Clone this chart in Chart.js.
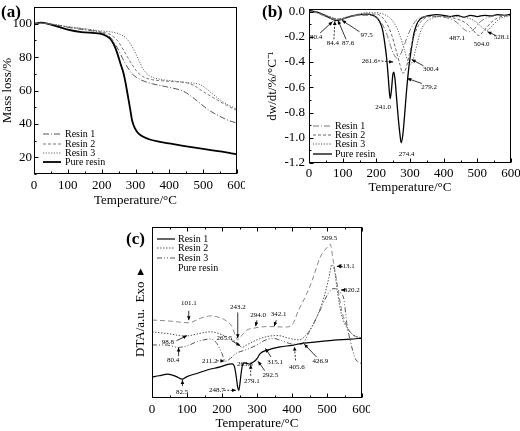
<!DOCTYPE html>
<html>
<head>
<meta charset="utf-8">
<script src="https://cdn.jsdelivr.net/npm/chart.js@4.4.1/dist/chart.umd.min.js"></script>
<style>
  html, body { margin: 0; padding: 0; background: #fff; }
  body { width: 520px; height: 431px; position: relative; overflow: hidden; }
  canvas { position: absolute; }
</style>
</head>
<body>
<canvas id="tg" width="245" height="210" style="left:0;top:0"></canvas>
<canvas id="dtg" width="260" height="200" style="left:260px;top:0"></canvas>
<canvas id="dta" width="270" height="216" style="left:100px;top:215px"></canvas>
<script>
// ---- data ----
const tempTicks = [0, 100, 200, 300, 400, 500, 600]
const tgTicks = [20, 40, 60, 80, 100]
const dtgTicks = [0, -0.2, -0.4, -0.6, -0.8, -1.0, -1.2]

// (a) TG, mass %
const tgR1T = [0, 25, 60, 100, 150, 200, 225, 245, 260, 274, 290, 313, 350, 392, 441, 465, 490, 515, 540, 570, 600]
const tgR1 = [100, 100.3, 99.3, 97.8, 96.3, 94.5, 92, 86, 80, 74.7, 70, 66.7, 64, 62.2, 59.6, 56.5, 52.5, 48.5, 45.5, 42.5, 40.4]
const tgR2T = [0, 25, 60, 100, 150, 200, 230, 250, 265, 274, 290, 303, 320, 343, 380, 412, 451, 475, 490, 515, 540, 570, 600]
const tgR2 = [100, 100.3, 99.5, 98, 96.8, 95, 93, 89, 84, 80.8, 75.5, 71.7, 68.5, 66.7, 65.8, 65.3, 64.6, 62.8, 60.6, 57.5, 54.5, 51, 48]
const tgR3T = [0, 25, 60, 100, 150, 200, 230, 250, 274, 294, 310, 323, 340, 353, 380, 412, 450, 490, 510, 530, 560, 600]
const tgR3 = [100, 100.4, 99.6, 98.3, 97, 95.6, 95, 94, 91, 84.8, 78, 72.7, 69, 67.7, 66.5, 65.7, 64.8, 63.6, 61, 57.6, 53, 48.8]
const tgPureT = [0, 20, 50, 100, 140, 195, 215, 225, 235, 245, 255, 265, 272, 279, 285, 290, 298, 310, 323, 345, 372, 400, 441, 500, 550, 600]
const tgPure = [100, 100.6, 99.5, 96.5, 95, 94, 92.5, 91, 88, 83, 76.5, 70, 63, 55, 48, 42, 37.5, 34, 32.3, 30.5, 29.3, 28.3, 26.9, 25, 23.5, 21.8]

// (b) DTG, %/°C
const dtgR1T = [0, 20, 40, 60, 80, 100, 120, 150, 180, 200, 215, 230, 242, 252, 262, 272, 285, 300, 315, 330, 350, 380, 410, 430, 445, 460, 475, 490, 505, 520, 540, 560, 600]
const dtgR1 = [0, -0.01, -0.03, -0.05, -0.065, -0.06, -0.045, -0.03, -0.03, -0.05, -0.09, -0.17, -0.27, -0.34, -0.37, -0.34, -0.25, -0.15, -0.08, -0.05, -0.04, -0.04, -0.05, -0.07, -0.1, -0.14, -0.16, -0.14, -0.09, -0.06, -0.04, -0.03, -0.03]
const dtgR2T = [0, 20, 40, 60, 84, 110, 140, 170, 200, 215, 230, 245, 258, 270, 279, 288, 298, 310, 325, 340, 360, 400, 440, 465, 485, 504, 520, 540, 560, 600]
const dtgR2 = [0, -0.005, -0.02, -0.04, -0.06, -0.05, -0.03, -0.02, -0.02, -0.04, -0.09, -0.18, -0.3, -0.42, -0.49, -0.45, -0.34, -0.21, -0.11, -0.06, -0.04, -0.04, -0.06, -0.09, -0.14, -0.19, -0.15, -0.09, -0.05, -0.03]
const dtgR3T = [0, 20, 40, 60, 88, 110, 140, 170, 200, 220, 240, 255, 270, 283, 293, 300, 308, 318, 330, 345, 360, 390, 430, 470, 495, 512, 528, 545, 565, 600]
const dtgR3 = [0.01, 0, -0.02, -0.04, -0.06, -0.045, -0.025, -0.01, -0.01, -0.02, -0.05, -0.1, -0.19, -0.3, -0.39, -0.42, -0.39, -0.29, -0.17, -0.09, -0.06, -0.04, -0.04, -0.05, -0.08, -0.12, -0.15, -0.11, -0.06, -0.03]
const dtgPureT = [0, 15, 30, 50, 65, 80, 95, 110, 130, 150, 170, 190, 200, 210, 218, 225, 231, 236, 241, 245, 249, 252, 256, 260, 265, 270, 274, 279, 284, 290, 295, 300, 306, 312, 320, 330, 345, 360, 380, 400, 420, 440, 460, 480, 500, 520, 540, 560, 580, 600]
const dtgPure = [0.01, 0, -0.01, -0.035, -0.055, -0.07, -0.065, -0.05, -0.035, -0.025, -0.02, -0.03, -0.045, -0.08, -0.14, -0.25, -0.38, -0.54, -0.69, -0.62, -0.5, -0.48, -0.55, -0.68, -0.84, -0.97, -1.04, -0.97, -0.82, -0.62, -0.48, -0.37, -0.26, -0.17, -0.1, -0.06, -0.04, -0.03, -0.025, -0.03, -0.04, -0.03, -0.045, -0.03, -0.04, -0.03, -0.035, -0.025, -0.03, -0.02]

// (c) DTA, arbitrary units (0 = bottom of frame, 100 = top)
const dtaR1T = [0, 20, 45, 70, 86, 100, 130, 160, 195, 220, 230, 236, 241, 245, 248, 251, 255, 259, 264, 272, 279, 285, 293, 300, 309, 330, 366, 400, 432, 470, 520, 566, 600]
const dtaR1 = [12.3, 13, 14, 12.5, 11, 12.5, 14.5, 16.5, 18.2, 19.8, 20, 18, 12, 6, 4.5, 8, 15, 19.5, 20.5, 20.2, 19.8, 20.5, 21.5, 23, 26, 28, 29.9, 30.8, 32.1, 32.8, 33.8, 34.4, 35]
const dtaR2T = [0, 50, 95, 130, 167, 200, 230, 245, 257, 270, 300, 330, 360, 390, 420, 445, 470, 490, 505, 514, 522, 530, 540, 557, 575, 600]
const dtaR2 = [38.7, 37.5, 36.2, 37.5, 38.7, 37, 34, 32, 29.6, 31, 34, 36, 36.5, 35, 34, 38, 47, 58, 70, 78, 74, 62, 50, 41, 37, 35]
const dtaR3T = [0, 40, 76, 100, 130, 167, 185, 200, 209, 220, 240, 271, 300, 320, 347, 370, 405, 427, 450, 475, 500, 510, 520, 533, 540, 548, 557, 567, 581, 590, 600]
const dtaR3 = [31, 31, 29.6, 30.5, 33, 34.5, 32, 26, 21.5, 22.5, 26, 28.4, 31, 33.5, 34.9, 33.5, 31.5, 31.5, 39, 49, 60, 63, 64, 63, 61, 58, 43, 33, 23, 21, 20]
const dtaPureT = [0, 50, 105, 138, 167, 186, 205, 228, 245, 258, 271, 295, 330, 349, 380, 400, 420, 440, 458, 481, 500, 509, 518, 528, 543, 566, 585, 600]
const dtaPure = [45.6, 45, 44, 46.6, 48, 47.5, 46, 42, 34, 37, 39.7, 41, 41.8, 41.7, 41.5, 42.7, 52, 60, 69, 82.5, 88, 90, 80, 68, 50.5, 38.7, 35.5, 34.5]

// peak labels: [text, labelT, labelY, arrowFromT, arrowFromY, arrowToT, arrowToY, dashed]
const dtgNotes = [
	['80.4', 21, -0.20, 33, -0.17, 70, -0.08],
	['84.4', 71, -0.25, 74, -0.22, 77, -0.075, true],
	['87.6', 116, -0.25, 110, -0.22, 86, -0.07],
	['97.5', 171, -0.19, 150, -0.16, 98, -0.07],
	['261.6', 180, -0.39, 205, -0.39, 250, -0.40, true],
	['300.4', 362, -0.455, 340, -0.43, 305, -0.38],
	['279.2', 357, -0.60, 335, -0.57, 292, -0.53],
	['241.0', 220, -0.76],
	['274.4', 290, -1.13],
	['487.1', 440, -0.21],
	['504.0', 513, -0.255],
	['528.1', 572, -0.205, 555, -0.19, 530, -0.16]
]
const dtaNotes = [
	['101.1', 105, 55.4, 105, 51, 105, 45.5],
	['98.8', 45, 32.5, 70, 33.5, 100, 36.5],
	['80.4', 60, 22, 76, 24.5, 76, 29.5],
	['82.5', 86, 3.3, 87, 7, 87, 10.5],
	['211.2', 165, 21.7, 185, 21.7, 207, 21.7, true],
	['248.7', 185, 4.5, 205, 4.5, 240, 4.5, true],
	['263.3', 265, 19.5],
	['279.1', 285, 9.8, 282, 13, 282, 19.5, true],
	['292.5', 338, 13.3, 322, 16, 303, 21.5],
	['265.5', 207, 34.9, 228, 33.5, 252, 30.5],
	['243.2', 245, 53.4, 245, 50, 245, 35],
	['294.0', 303, 48.5, 300, 45.5, 296, 42],
	['342.1', 362, 48.9, 355, 45.5, 349, 42],
	['315.1', 352, 21, 340, 24, 324, 29],
	['405.6', 414, 18, 410, 22, 407, 30, true],
	['426.9', 481, 21.5, 470, 24, 435, 31.5],
	['509.5', 507, 93.5],
	['513.1', 557, 76.9, 545, 77, 528, 77],
	['520.2', 571, 63.2, 557, 63.2, 540, 63.2]
]

Chart.defaults.font.family = "'Liberation Serif', 'Times New Roman', serif"
Chart.defaults.color = '#000'

const series = (ts, vs) => ts.map((t, i) => ({ x: t, y: vs[i] }))

// frame, inward ticks, legend, panel letter and peak labels
const panelPlugin = {
	id: 'panel',
	afterDatasetsDraw(chart, args, o) {
		const { ctx, chartArea: a } = chart
		const xs = chart.scales.x, ys = chart.scales.y
		ctx.save()
		ctx.strokeStyle = '#000'
		ctx.fillStyle = '#000'
		ctx.lineWidth = 1
		const L = Math.round(a.left) + 0.5, R = Math.round(a.right) - 0.5
		const T = Math.round(a.top) + 0.5, B = Math.round(a.bottom) - 0.5
		ctx.strokeRect(L, T, R - L, B - T)

		const line = (x0, y0, x1, y1) => { ctx.beginPath(); ctx.moveTo(x0, y0); ctx.lineTo(x1, y1); ctx.stroke() }
		const marks = (scale) => {
			const maj = scale.ticks.map(t => t.value)
			const step = maj[1] - maj[0]
			const out = maj.map(v => [v, 4])
			for (let k = -1; k < maj.length; k++) {
				const v = maj[0] + (k + 0.5) * step
				if (v >= Math.min(scale.min, scale.max) && v <= Math.max(scale.min, scale.max)) out.push([v, 2])
			}
			return out
		}
		for (const [v, len] of marks(xs)) {
			const px = Math.round(xs.getPixelForValue(v)) + 0.5
			line(px, B, px, B - len)
			if (o.topTicks) line(px, T, px, T + len)
		}
		if (!o.noYTicks) {
			for (const [v, len] of marks(ys)) {
				const py = Math.round(ys.getPixelForValue(v)) + 0.5
				line(L, py, L + len, py)
			}
		}

		// legend inside the plot
		ctx.font = "10px 'Liberation Serif'"
		ctx.textBaseline = 'middle'
		ctx.textAlign = 'left'
		chart.data.datasets.forEach((d, i) => {
			const yy = o.legend.ys[i]
			if (!d.noSample) {
				ctx.save()
				ctx.strokeStyle = d.borderColor
				ctx.lineWidth = d.borderWidth
				ctx.setLineDash(d.borderDash)
				line(o.legend.x0, yy, o.legend.x1, yy)
				ctx.restore()
			}
			ctx.fillText(d.label, o.legend.tx, yy)
		})

		// panel letter
		ctx.font = "bold 17px 'Liberation Serif'"
		ctx.fillText(o.letter[0], o.letter[1], o.letter[2])

		// peak labels with arrows
		ctx.font = "7px 'Liberation Serif'"
		ctx.textAlign = 'center'
		ctx.lineWidth = 0.8
		for (const n of o.notes) {
			ctx.fillText(n[0], xs.getPixelForValue(n[1]), ys.getPixelForValue(n[2]))
			if (n.length < 7) continue
			const x0 = xs.getPixelForValue(n[3]), y0 = ys.getPixelForValue(n[4])
			const x1 = xs.getPixelForValue(n[5]), y1 = ys.getPixelForValue(n[6])
			ctx.setLineDash(n[7] ? [2, 1.5] : [])
			line(x0, y0, x1, y1)
			ctx.setLineDash([])
			const ang = Math.atan2(y1 - y0, x1 - x0)
			ctx.beginPath()
			ctx.moveTo(x1, y1)
			ctx.lineTo(x1 - 4 * Math.cos(ang) + 1.8 * Math.sin(ang), y1 - 4 * Math.sin(ang) - 1.8 * Math.cos(ang))
			ctx.lineTo(x1 - 4 * Math.cos(ang) - 1.8 * Math.sin(ang), y1 - 4 * Math.sin(ang) + 1.8 * Math.cos(ang))
			ctx.closePath()
			ctx.fill()
		}
		ctx.restore()
	}
}

function makeChart(id, sets, c) {
	return new Chart(document.getElementById(id), {
		type: 'line',
		data: {
			datasets: sets.map(s => ({
				label: s.label,
				data: series(s.t, s.v),
				borderColor: s.color,
				borderWidth: s.width,
				borderDash: s.dash || [],
				noSample: !!s.noSample,
				pointRadius: 0,
				fill: false,
				cubicInterpolationMode: 'monotone'
			}))
		},
		options: {
			responsive: false,
			animation: false,
			devicePixelRatio: 1,
			layout: { padding: c.pad },
			plugins: { legend: { display: false }, tooltip: { enabled: false }, panel: c.panel },
			scales: {
				x: {
					type: 'linear', min: 0, max: 600,
					afterBuildTicks: s => { s.ticks = tempTicks.map(v => ({ value: v })) },
					afterFit: s => { s.height = c.xHeight; s.paddingLeft = 0; s.paddingRight = 0 },
					grid: { display: false, drawTicks: false },
					border: { display: false },
					ticks: { font: { size: 13 }, color: '#000', padding: c.xTickPad, maxRotation: 0, autoSkip: false },
					title: { display: true, text: 'Temperature/°C', font: { size: 13 }, color: '#000', padding: { top: 0, bottom: c.xTitlePad } }
				},
				y: {
					type: 'linear', min: c.yMin, max: c.yMax,
					afterBuildTicks: s => { s.ticks = c.yTicks.map(v => ({ value: v })) },
					afterFit: s => { s.width = c.yWidth; s.paddingTop = 0; s.paddingBottom = 0 },
					grid: { display: false, drawTicks: false },
					border: { display: false },
					ticks: { display: c.yLabels, font: { size: 13 }, color: '#000', padding: c.yTickPad, autoSkip: false, callback: c.yFmt },
					title: { display: true, text: c.yTitle, font: { size: 13 }, color: '#000', padding: { top: c.yTitlePad, bottom: 0 } }
				}
			}
		},
		plugins: [panelPlugin]
	})
}

// (a)
makeChart('tg', [
	{ label: 'Resin 1', t: tgR1T, v: tgR1, color: '#555', width: 1, dash: [6, 2, 1, 2] },
	{ label: 'Resin 2', t: tgR2T, v: tgR2, color: '#777', width: 1, dash: [3, 2] },
	{ label: 'Resin 3', t: tgR3T, v: tgR3, color: '#666', width: 1, dash: [1.2, 1.5] },
	{ label: 'Pure resin', t: tgPureT, v: tgPure, color: '#000', width: 1.8 }
], {
	pad: { top: 7, right: 8, left: 0, bottom: 0 },
	xHeight: 36, xTickPad: 4, xTitlePad: 2,
	yMin: 10, yMax: 110, yTicks: tgTicks, yLabels: true, yFmt: v => v,
	yWidth: 34, yTickPad: 2, yTitle: 'Mass loss/%', yTitlePad: 0,
	panel: { letter: ['(a)', 1, 13], legend: { x0: 43, x1: 61, tx: 65, ys: [134, 144, 153, 162] }, notes: [] }
})

// (b)
makeChart('dtg', [
	{ label: 'Resin 1', t: dtgR1T, v: dtgR1, color: '#777', width: 1, dash: [6, 2, 1, 2] },
	{ label: 'Resin 2', t: dtgR2T, v: dtgR2, color: '#666', width: 1, dash: [3, 2] },
	{ label: 'Resin 3', t: dtgR3T, v: dtgR3, color: '#555', width: 1, dash: [1.2, 1.5] },
	{ label: 'Pure resin', t: dtgPureT, v: dtgPure, color: '#000', width: 1.3 }
], {
	pad: { top: 9, right: 9, left: 0, bottom: 0 },
	xHeight: 37, xTickPad: 3, xTitlePad: 5,
	yMin: -1.2, yMax: 0.02, yTicks: dtgTicks, yLabels: true, yFmt: v => v.toFixed(1),
	yWidth: 49, yTickPad: 4, yTitle: 'dw/dt/%/°C⁻¹', yTitlePad: 5,
	panel: { letter: ['(b)', 2, 13], legend: { x0: 53, x1: 72, tx: 75, ys: [126, 135, 144, 154] }, notes: dtgNotes }
})

// (c)
makeChart('dta', [
	{ label: 'Resin 1', t: dtaR1T, v: dtaR1, color: '#000', width: 1.2 },
	{ label: 'Resin 2', t: dtaR2T, v: dtaR2, color: '#555', width: 1, dash: [1.5, 1.5] },
	{ label: 'Resin 3', t: dtaR3T, v: dtaR3, color: '#555', width: 1, dash: [5, 2, 1, 2, 1, 2] },
	{ label: 'Pure resin', t: dtaPureT, v: dtaPure, color: '#888', width: 1, dash: [5, 3], noSample: true }
], {
	pad: { top: 12, right: 8, left: 0, bottom: 0 },
	xHeight: 33, xTickPad: 4, xTitlePad: 0,
	yMin: 0, yMax: 100, yTicks: [0, 50, 100], yLabels: false, yFmt: v => v,
	yWidth: 52, yTickPad: 2, yTitle: 'DTA/a.u.  Exo  ▸', yTitlePad: 33,
	panel: { letter: ['(c)', 26, 25], legend: { x0: 57, x1: 75, tx: 78, ys: [24, 33, 43, 53] }, notes: dtaNotes, topTicks: true, noYTicks: true }
})
</script>
</body>
</html>
